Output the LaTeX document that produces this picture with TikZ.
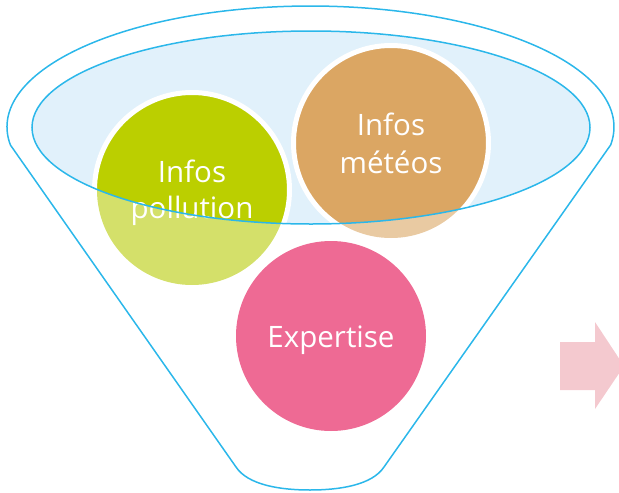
\documentclass[tikz,border=0pt]{standalone}
\usepackage{fontspec}
\setmainfont{Open Sans}
\definecolor{funnelline}{HTML}{2BB7EA}
\definecolor{funnelfill}{HTML}{E1F1FB}
\definecolor{greenfull}{HTML}{BBCF00}
\definecolor{greenlight}{HTML}{D4E06A}
\definecolor{orangefull}{HTML}{DBA663}
\definecolor{orangelight}{HTML}{E9CAA2}
\definecolor{pinkfull}{HTML}{EE6A94}
\definecolor{arrowpink}{HTML}{F4C9CF}
\begin{document}
\begin{tikzpicture}[x=1pt,y=-1pt,
  outline/.style={draw=funnelline,line width=1.5pt},
  ballfull/.style={draw=white,line width=5pt},
  balltext/.style={text=white,font=\fontsize{29.5}{35}\selectfont,anchor=base,inner sep=0pt}]
\useasboundingbox (0,0) rectangle (619,493);
% funnel outline
\draw[outline,line join=round] (10.4,145) arc[start angle=171.45,end angle=368.55,x radius=303.5,y radius=121]
  -- (384,467) .. controls (372,485) and (340,490) .. (310,490)
  .. controls (280,490) and (248,485) .. (236,467) -- cycle;
% balls outside the inner ellipse (lighter)
\fill[greenlight] (192,190) circle[radius=95];
\fill[orangelight] (391,143) circle[radius=95];
\fill[pinkfull] (331,336) circle[radius=95];
% inside the inner ellipse
\begin{scope}
  \clip (311,127.5) ellipse[x radius=279,y radius=96.5];
  \fill[funnelfill] (311,127.5) ellipse[x radius=279,y radius=96.5];
  \filldraw[ballfull,fill=greenfull] (192,190) circle[radius=97.5];
  \filldraw[ballfull,fill=orangefull] (391,143) circle[radius=97.5];
\end{scope}
% labels
\node[balltext] (p1) at (192,182) {Infos};
\node[balltext] (p2) at (192,218) {pollution};
\node[balltext] (m1) at (391,135) {Infos};
\node[balltext] (m2) at (391,173) {météos};
\node[balltext] (ex) at (331,347) {Expertise};
\draw[outline] (311,127.5) ellipse[x radius=279,y radius=96.5];
% arrow
\fill[arrowpink] (560,342) -- (595,342) -- (595,322) -- (624,366) -- (595,409) -- (595,390) -- (560,390) -- cycle;
\end{tikzpicture}
\end{document}
